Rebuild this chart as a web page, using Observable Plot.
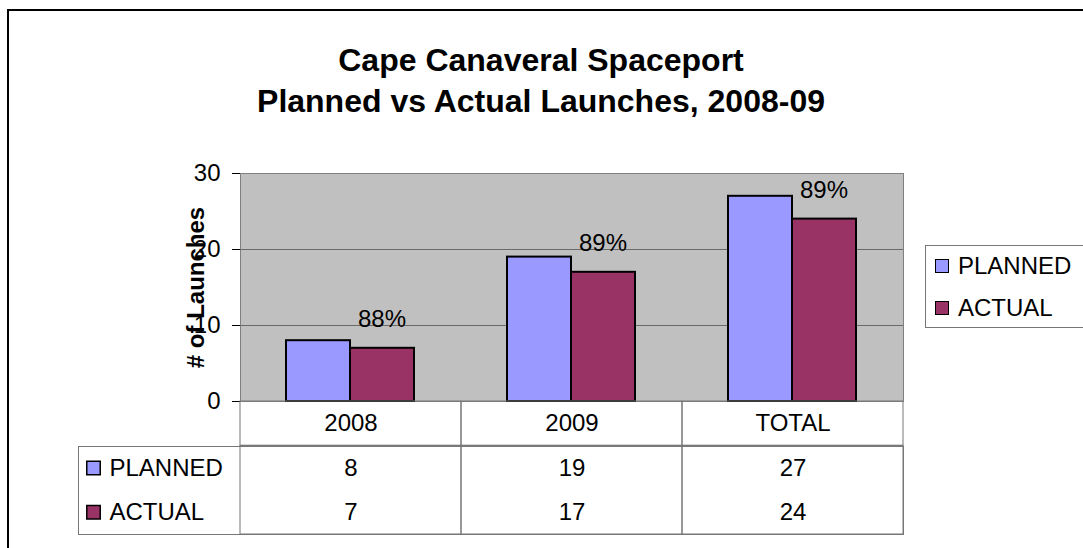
<!DOCTYPE html>
<html>
<head>
<meta charset="utf-8">
<script src="https://cdn.jsdelivr.net/npm/d3@7"></script>
<script src="https://cdn.jsdelivr.net/npm/@observablehq/plot@0.6"></script>
<style>
  html, body { margin: 0; padding: 0; background: #fff; overflow: hidden; }
  body { width: 1083px; height: 548px; position: relative; font-family: "Liberation Sans", Arial, sans-serif; }
  #border { position: absolute; left: 7px; top: 9px; width: 2000px; height: 2000px;
            border-left: 2px solid #000; border-top: 2px solid #000; }
  #title { position: absolute; left: 0; top: 40px; width: 1082px; text-align: center;
           font-weight: bold; font-size: 32px; line-height: 41px; color: #000; }
  #main { position: absolute; left: 0; top: 130px; }
  #table { position: absolute; left: 0; top: 401px; }
  #legend { position: absolute; left: 925px; top: 245px; width: 180px; height: 83px;
            border: 1px solid #777; background: #fff; box-sizing: border-box; }
  .item { position: absolute; left: 9px; height: 24px; display: flex; align-items: center;
          font-size: 24px; color: #000; white-space: nowrap; }
  .sw { width: 12px; height: 12px; border: 1.5px solid #000; margin-right: 9px; }
  svg text { font-family: "Liberation Sans", Arial, sans-serif; }
</style>
</head>
<body>
<div id="border"></div>
<div id="title">Cape Canaveral Spaceport<br>Planned vs Actual Launches, 2008-09</div>
<div id="main"></div>
<div id="table"></div>
<div id="legend"></div>
<script>
// ---- data ----
const categories = ["2008", "2009", "TOTAL"];
const series = ["PLANNED", "ACTUAL"];
const planned = [8, 19, 27];
const actual = [7, 17, 24];
const pctLabels = ["88%", "89%", "89%"];
const yTicks = [0, 10, 20, 30];
const seriesColors = ["#9999FF", "#993366"];
const yLabel = "# of Launches";

// tables built from the arrays
const rows = categories.flatMap((c, i) => [
  {cat: c, series: series[0], value: planned[i]},
  {cat: c, series: series[1], value: actual[i], pct: pctLabels[i]}
]);
const plannedRows = rows.filter(d => d.series === series[0]);
const actualRows = rows.filter(d => d.series === series[1]);

const font = "'Liberation Sans', Arial, sans-serif";
const gridColor = "#6a6a6a";
const lineColor = "#777";

const main = Plot.plot({
  width: 1083, height: 272,
  marginTop: 43, marginBottom: 1, marginLeft: 240, marginRight: 180,
  style: {fontFamily: font, fontSize: "24px", color: "#000", background: "transparent", overflow: "visible"},
  x: {type: "band", domain: categories, paddingInner: 0, paddingOuter: 0, axis: null},
  y: {domain: [0, 30], ticks: yTicks, tickSize: 8, tickPadding: 12, label: null},
  color: {domain: series, range: seriesColors},
  marks: [
    Plot.frame({fill: "#C0C0C0", stroke: "#808080"}),
    Plot.ruleY(yTicks.filter(t => t > 0 && t < 30), {stroke: gridColor, strokeWidth: 1}),
    Plot.barY(plannedRows, {x: "cat", y: "value", fill: "series", stroke: "#000", strokeWidth: 2, insetLeft: 46, insetRight: 111}),
    Plot.barY(actualRows, {x: "cat", y: "value", fill: "series", stroke: "#000", strokeWidth: 2, insetLeft: 110, insetRight: 47}),
    Plot.text(actualRows, {x: "cat", y: "value", text: "pct", dx: 31, dy: -29, fontSize: 24, fill: "#000"}),
    Plot.text([yLabel], {frameAnchor: "left", textAnchor: "middle", dx: -44, rotate: -90, fontSize: 24, fontWeight: "bold", fill: "#000"})
  ]
});
document.getElementById("main").appendChild(main);

const table = Plot.plot({
  width: 1083, height: 147,
  marginTop: 0, marginBottom: 14, marginLeft: 240, marginRight: 180,
  style: {fontFamily: font, fontSize: "24px", color: "#000", background: "transparent", overflow: "visible"},
  x: {type: "band", domain: categories, paddingInner: 0, paddingOuter: 0, axis: null},
  y: {domain: [0, 3], reverse: true, axis: null},
  color: {domain: series, range: seriesColors},
  marks: [
    Plot.frame({stroke: lineColor, insetLeft: -162, insetTop: 45}),
    Plot.barY(categories, {x: d => d, y1: 0, y2: 1, fill: "none", stroke: lineColor}),
    Plot.barY(categories, {x: d => d, y1: 1, y2: 3, fill: "none", stroke: lineColor}),
    Plot.text(categories, {x: d => d, y: 0.5, text: d => d, fontSize: 24, fill: "#000"}),
    Plot.text(rows, {x: "cat", y: d => 1.5 + series.indexOf(d.series), text: d => String(d.value), fontSize: 24, fill: "#000"}),
    Plot.text(series, {frameAnchor: "left", y: d => 1.5 + series.indexOf(d), text: d => d, dx: -131, textAnchor: "start", fontSize: 24, fill: "#000"}),
    Plot.dot(series, {frameAnchor: "left", y: d => 1.5 + series.indexOf(d), dx: -147, symbol: "square", r: 7.6, fill: d => d, stroke: "#000", strokeWidth: 1.5})
  ]
});
document.getElementById("table").appendChild(table);

// legend
const legend = document.getElementById("legend");
series.forEach((s, i) => {
  const item = document.createElement("div");
  item.className = "item";
  item.style.top = (8 + i * 42) + "px";
  const sw = document.createElement("div");
  sw.className = "sw";
  sw.style.background = seriesColors[i];
  item.appendChild(sw);
  item.appendChild(document.createTextNode(s));
  legend.appendChild(item);
});
</script>
</body>
</html>
